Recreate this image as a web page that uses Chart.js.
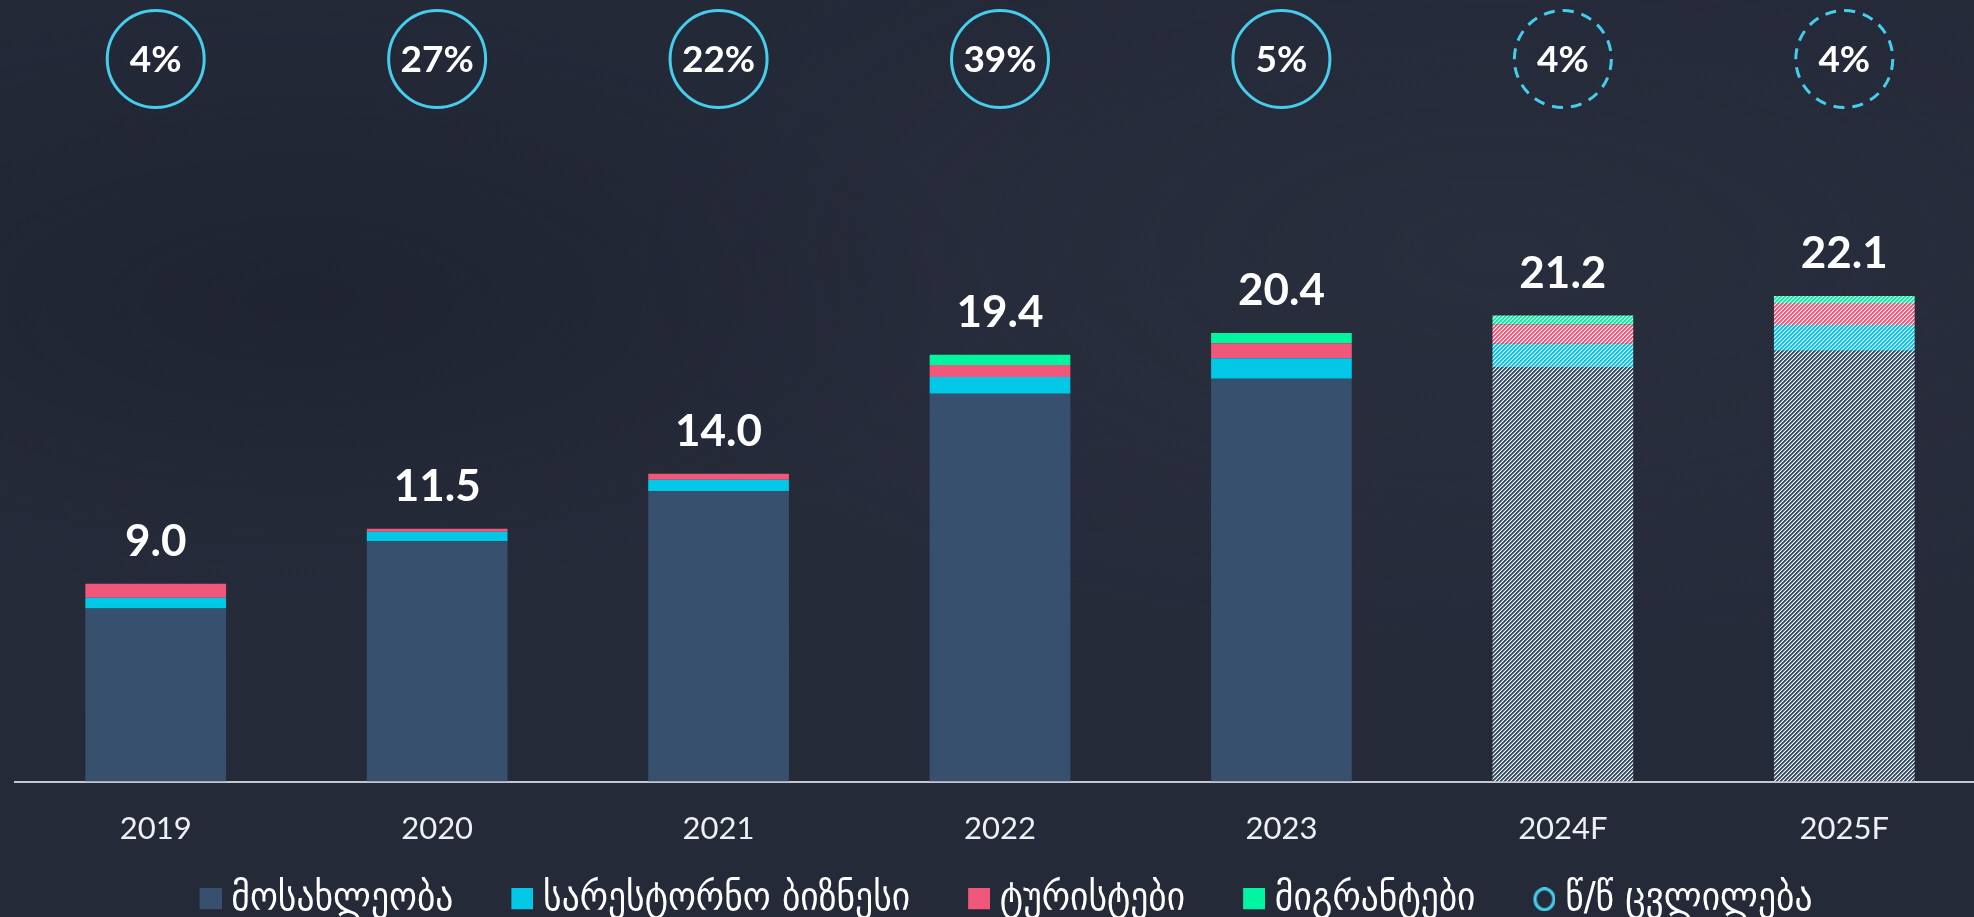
<!DOCTYPE html>
<html>
<head>
<meta charset="utf-8">
<script src="https://cdn.jsdelivr.net/npm/chart.js@4/dist/chart.umd.min.js"></script>
<style>
  html, body { margin: 0; padding: 0; width: 1974px; height: 917px; overflow: hidden; }
  body {
    background:
      radial-gradient(ellipse 700px 300px at 300px 300px, rgba(20,24,34,0.35), rgba(0,0,0,0)),
      radial-gradient(ellipse 900px 400px at 1500px 250px, rgba(50,56,72,0.25), rgba(0,0,0,0)),
      linear-gradient(180deg, #242938 0%, #262b3a 50%, #252a39 100%);
  }
  #wrap { position: absolute; left: 0; top: 0; width: 1990px; height: 929px; }
</style>
</head>
<body>
<div id="wrap"><canvas id="c" width="1990" height="929"></canvas></div>
<script>
// ---- data ----
const categories = ['2019', '2020', '2021', '2022', '2023', '2024F', '2025F'];
const population = [7.87, 10.93, 13.21, 17.64, 18.32, 18.85, 19.60];
const restaurantBusiness = [0.49, 0.43, 0.52, 0.76, 0.93, 1.06, 1.17];
const tourists = [0.64, 0.14, 0.27, 0.55, 0.68, 0.88, 1.00];
const migrants = [0.00, 0.00, 0.00, 0.46, 0.47, 0.41, 0.32];
const totals = [9.0, 11.5, 14.0, 19.4, 20.4, 21.2, 22.1];
const yoyChange = [4, 27, 22, 39, 5, 4, 4];
const isForecast = [false, false, false, false, false, true, true];

const seriesNames = ['მოსახლეობა', 'სარესტორნო ბიზნესი', 'ტურისტები', 'მიგრანტები'];
const yoyName = 'წ/წ ცვლილება';

// ---- styles ----
const colors = ['#37506e', '#00c8e6', '#f0577a', '#00f5a0'];
const ringColor = '#46cdec';
const legendFont = 39.5;

function hexToRgb(h) {
  return [parseInt(h.slice(1, 3), 16), parseInt(h.slice(3, 5), 16), parseInt(h.slice(5, 7), 16)];
}
function hatch(color) {
  const s = 4;
  const c = document.createElement('canvas');
  c.width = s; c.height = s;
  const g = c.getContext('2d');
  const [r, gg, b] = hexToRgb(color);
  const img = g.createImageData(s, s);
  for (let y = 0; y < s; y++) {
    for (let x = 0; x < s; x++) {
      const k = (x + y) % s;
      const a = k < 2 ? 1 : (k === 2 ? 0.6 : 0);
      const p = (y * s + x) * 4;
      img.data[p] = Math.round(r * a + 255 * (1 - a));
      img.data[p + 1] = Math.round(gg * a + 255 * (1 - a));
      img.data[p + 2] = Math.round(b * a + 255 * (1 - a));
      img.data[p + 3] = 255;
    }
  }
  g.putImageData(img, 0, 0);
  return document.getElementById('c').getContext('2d').createPattern(c, 'repeat');
}

// legend marker images: swatch sits at the right part of a wider transparent image
const markerBox = 60;   // pointStyleWidth
const markerW = 80;     // image width (centred at markerBox/2)
function swatch(color) {
  const c = document.createElement('canvas');
  c.width = markerW; c.height = 22;
  const g = c.getContext('2d');
  g.fillStyle = color;
  g.fillRect(markerW - 22, 0, 22, 21);
  return c;
}
function ringSwatch() {
  const c = document.createElement('canvas');
  c.width = markerW; c.height = 24;
  const g = c.getContext('2d');
  g.strokeStyle = ringColor;
  g.lineWidth = 3.2;
  g.beginPath();
  g.ellipse(markerW - 11, 12, 9.5, 10.5, 0, 0, Math.PI * 2);
  g.stroke();
  return c;
}

const seriesData = [population, restaurantBusiness, tourists, migrants];
const datasets = seriesData.map((d, k) => ({
  label: seriesNames[k],
  data: d,
  backgroundColor: categories.map((_, i) => isForecast[i] ? hatch(colors[k]) : colors[k]),
  borderWidth: 0,
  stack: 's',
  categoryPercentage: 1.0,
  barPercentage: 0.5
}));

const overlay = {
  id: 'overlay',
  afterLayout(chart) {
    // visually centre the legend (markers carry blank space on their left)
    const lg = chart.legend;
    if (lg) { lg.left -= 18; lg.right -= 18; }
  },
  afterDatasetsDraw(chart) {
    const ctx = chart.ctx;
    const xs = chart.scales.x, ys = chart.scales.y;
    ctx.save();
    ctx.fillStyle = '#ffffff';
    ctx.font = 'bold 44px Lato, "DejaVu Sans", sans-serif';
    ctx.textAlign = 'center';
    ctx.textBaseline = 'middle';
    totals.forEach((t, i) => {
      ctx.fillText(t.toFixed(1), xs.getPixelForValue(i), ys.getPixelForValue(t) - 42);
    });
    yoyChange.forEach((v, i) => {
      const cx = xs.getPixelForValue(i), cy = 59;
      ctx.beginPath();
      ctx.setLineDash(isForecast[i] ? [11, 8] : []);
      ctx.lineWidth = 3;
      ctx.strokeStyle = ringColor;
      ctx.arc(cx, cy, 48.5, -Math.PI / 2, Math.PI * 1.5);
      ctx.stroke();
      ctx.setLineDash([]);
      ctx.font = 'bold 37px Lato, "DejaVu Sans", sans-serif';
      ctx.fillStyle = '#ffffff';
      ctx.fillText(v + '%', cx, cy + 1);
    });
    ctx.restore();
  }
};

new Chart(document.getElementById('c'), {
  type: 'bar',
  data: { labels: categories, datasets },
  options: {
    responsive: false,
    animation: false,
    layout: { padding: { left: 15, right: 5, top: 122, bottom: 0 } },
    plugins: {
      tooltip: { enabled: false },
      legend: {
        position: 'bottom',
        align: 'center',
        maxHeight: 60,
        labels: {
          usePointStyle: true,
          pointStyleWidth: markerBox,
          boxHeight: 22,
          padding: 10,
          color: '#ffffff',
          font: { family: '"DejaVu Sans Condensed", "DejaVu Sans", sans-serif', size: legendFont },
          generateLabels() {
            const items = seriesNames.map((n, k) => ({
              text: n, pointStyle: swatch(colors[k]), fillStyle: colors[k],
              strokeStyle: colors[k], lineWidth: 0, hidden: false, datasetIndex: k, fontColor: '#ffffff'
            }));
            items.push({ text: yoyName, pointStyle: ringSwatch(), fillStyle: 'rgba(0,0,0,0)',
              strokeStyle: ringColor, lineWidth: 0, hidden: false, fontColor: '#ffffff' });
            return items;
          }
        }
      }
    },
    scales: {
      x: {
        stacked: true,
        grid: { display: false },
        border: { display: true, color: '#c3c7cf', width: 2 },
        ticks: { color: '#eef0f4', padding: 21, font: { family: 'Lato, sans-serif', size: 31 } },
        afterFit(scale) { scale.height = 88; }
      },
      y: {
        stacked: true,
        display: false,
        min: 0,
        max: 30
      }
    }
  },
  plugins: [overlay]
});
</script>
</body>
</html>
